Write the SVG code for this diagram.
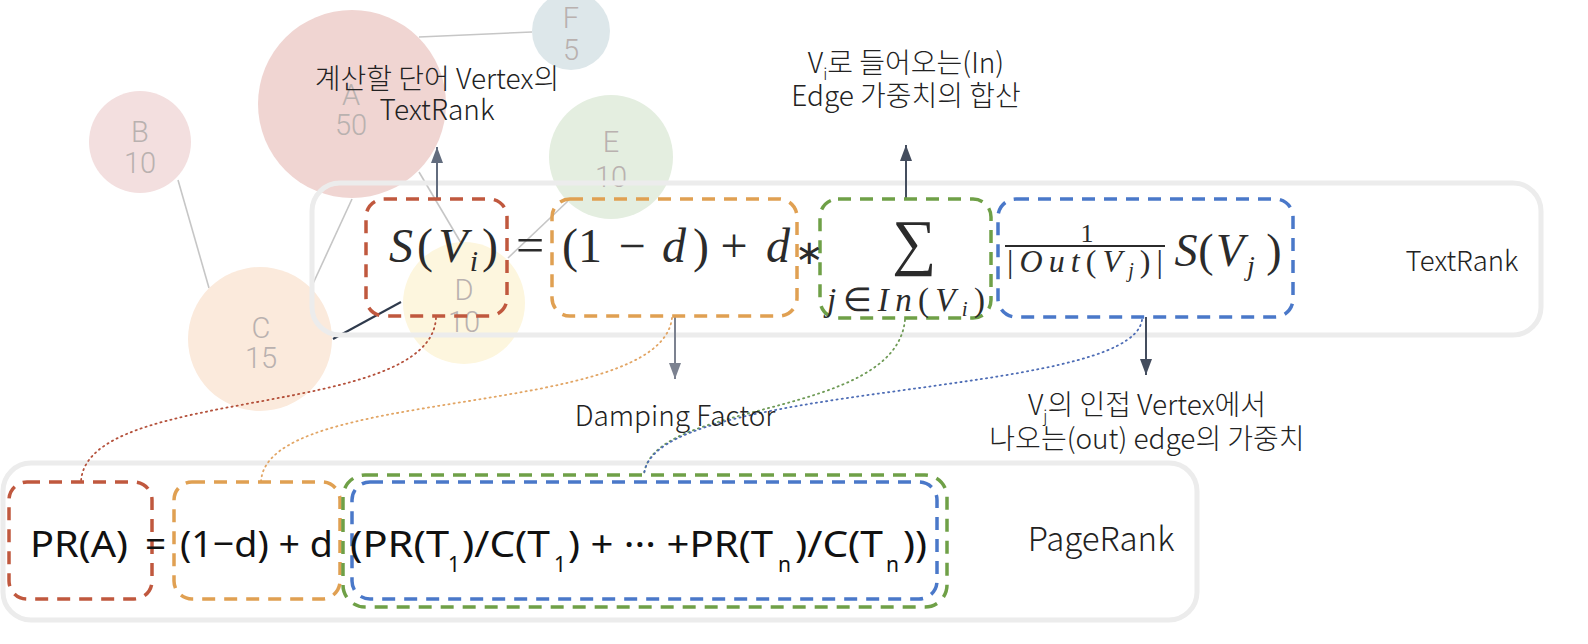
<svg xmlns="http://www.w3.org/2000/svg" width="1588" height="644" viewBox="0 0 1588 644">
<defs>
<style>
.edge{stroke:#c6c6c6;stroke-width:1.6;fill:none}
.nl{font-family:Roboto,"Noto Sans",sans-serif;font-weight:300;font-size:29px;text-anchor:middle;fill:#b9b1af}
.frame{fill:none;stroke:#ececec;stroke-width:5}
.db{fill:none;stroke-width:3.5;stroke-dasharray:13 9}
.red{stroke:#c0583e}.org{stroke:#e0a052}.grn{stroke:#6fa047}.blu{stroke:#4a78c9}
.dot{fill:none;stroke-width:1.8;stroke-dasharray:1.2 4;stroke-linecap:round}
.m{font-family:"Liberation Serif","Times New Roman",serif;fill:#2b2b2b;text-anchor:middle}
.it{font-style:italic}
.ko{font-family:"Noto Sans CJK KR","Noto Sans",sans-serif;font-weight:300;font-size:28px;fill:#222;text-anchor:middle}
.pr{font-family:"Noto Sans","Noto Sans CJK KR",sans-serif;font-size:37px;fill:#111}
.prs{font-family:"Noto Sans","Noto Sans CJK KR",sans-serif;font-size:21px;fill:#111}
.ttl{font-family:"Noto Sans CJK KR","Noto Sans",sans-serif;font-weight:300;fill:#222;text-anchor:middle}
</style>
<marker id="ahg" viewBox="0 0 16 12" refX="16" refY="6" markerWidth="16" markerHeight="12" markerUnits="userSpaceOnUse" orient="auto"><path d="M0,0 L16,6 L0,12 Z" fill="#626c7e"/></marker>
<marker id="ahd" viewBox="0 0 16 12" refX="16" refY="6" markerWidth="16" markerHeight="12" markerUnits="userSpaceOnUse" orient="auto"><path d="M0,0 L16,6 L0,12 Z" fill="#444d5e"/></marker>
<marker id="ahl" viewBox="0 0 16 12" refX="16" refY="6" markerWidth="16" markerHeight="12" markerUnits="userSpaceOnUse" orient="auto"><path d="M0,0 L16,6 L0,12 Z" fill="#7c8290"/></marker>
</defs>
<rect width="1588" height="644" fill="#ffffff"/>

<g id="graph-edges">
<line class="edge" x1="419" y1="37" x2="532" y2="32"/>
<line class="edge" x1="178" y1="180" x2="209" y2="288"/>
<line class="edge" x1="352" y1="199" x2="311" y2="288"/>
<line class="edge" x1="419" y1="172" x2="464" y2="248"/>
<line class="edge" x1="508" y1="258" x2="568" y2="201"/>
<line x1="333" y1="339" x2="401" y2="302" stroke="#2f3a4c" stroke-width="2"/>
</g>

<g id="node-F"><circle cx="571" cy="31" r="39" fill="#dde7ea"/><text class="nl" x="571" y="28">F</text><text class="nl" x="571" y="60">5</text></g>
<g id="node-A"><circle cx="352" cy="104" r="94" fill="#f0d5d2"/><text class="nl" x="351" y="105">A</text><text class="nl" x="351" y="135">50</text></g>
<g id="node-B"><circle cx="140" cy="142" r="51" fill="#f3dfdf"/><text class="nl" x="140" y="142">B</text><text class="nl" x="140" y="173">10</text></g>
<g id="node-E"><circle cx="611" cy="157" r="62" fill="#e4eee0"/><text class="nl" x="611" y="152">E</text><text class="nl" x="611" y="187">10</text></g>
<g id="node-C"><circle cx="260" cy="339" r="72" fill="#fbeadc"/><text class="nl" x="261" y="338">C</text><text class="nl" x="261" y="368">15</text></g>
<g id="node-D"><circle cx="464" cy="303" r="61" fill="#fdf6de"/><text class="nl" x="464" y="300">D</text><text class="nl" x="464" y="332">10</text></g>

<g id="textrank-frame"><rect class="frame" x="312" y="183" width="1229" height="152" rx="28"/></g>
<g id="pagerank-frame"><rect class="frame" x="3" y="463" width="1194" height="157" rx="28"/></g>

<g id="connectors">
<line x1="437" y1="199" x2="437" y2="147" stroke="#626c7e" stroke-width="2" marker-end="url(#ahg)"/>
<line x1="906" y1="199" x2="906" y2="145" stroke="#444d5e" stroke-width="2" marker-end="url(#ahd)"/>
<line x1="675" y1="317" x2="675" y2="379" stroke="#7c8290" stroke-width="2" marker-end="url(#ahl)"/>
<line x1="1146" y1="317" x2="1146" y2="375" stroke="#444d5e" stroke-width="2" marker-end="url(#ahd)"/>
<path class="dot" stroke="#b4503a" d="M436,318 C430,420 85,385 81,482"/>
<path class="dot" stroke="#e2a564" d="M672,318 C660,420 265,385 261,482"/>
<path class="dot" stroke="#6e9a55" d="M905,320 C895,420 650,400 644,475"/>
<path class="dot" stroke="#4d6cb5" d="M1142,320 C1130,400 650,380 644,475"/>
</g>

<g id="tr-box-red"><rect class="db red" x="366" y="199" width="141" height="117" rx="18"/></g>
<g id="tr-box-orange"><rect class="db org" x="552" y="199" width="245" height="117" rx="18"/></g>
<g id="tr-box-green"><rect class="db grn" x="820" y="199" width="171" height="119" rx="18"/></g>
<g id="tr-box-blue"><rect class="db blu" x="998" y="199" width="295" height="118" rx="18"/></g>

<g id="textrank-formula">
<text class="m it" x="401" y="262" font-size="48">S</text>
<text class="m" x="425" y="262" font-size="48">(</text>
<text class="m it" x="453" y="262" font-size="48">V</text>
<text class="m it" x="474" y="271" font-size="30">i</text>
<text class="m" x="490" y="262" font-size="48">)</text>
<text class="m" x="530" y="262" font-size="50">=</text>
<text class="m" x="570" y="262" font-size="48">(</text>
<text class="m" x="590" y="262" font-size="48">1</text>
<text class="m" x="632" y="262" font-size="48">−</text>
<text class="m it" x="674" y="262" font-size="48">d</text>
<text class="m" x="701" y="262" font-size="48">)</text>
<text class="m" x="734" y="262" font-size="48">+</text>
<text class="m it" x="778" y="262" font-size="48">d</text>
<text class="m" x="809" y="264" font-size="34">∗</text>
<text class="m" x="914" y="263" font-size="62">∑</text>
<text class="m" x="906" y="311" font-size="33" textLength="158" lengthAdjust="spacing"><tspan class="it">j</tspan>∈<tspan class="it">In</tspan>(<tspan class="it">V</tspan><tspan class="it" font-size="21" dy="5">i</tspan><tspan dy="-5">)</tspan></text>
<text class="m" x="1087" y="242" font-size="26">1</text>
<line x1="1005" y1="246" x2="1165" y2="246" stroke="#2b2b2b" stroke-width="1.8"/>
<text class="m" x="1085" y="272" font-size="32" textLength="156" lengthAdjust="spacing">|<tspan class="it">Out</tspan>(<tspan class="it">V</tspan><tspan class="it" font-size="20" dy="5">j</tspan><tspan dy="-5">)|</tspan></text>
<text class="m it" x="1186" y="266" font-size="46">S</text>
<text class="m" x="1206" y="266" font-size="46">(</text>
<text class="m it" x="1230" y="266" font-size="46">V</text>
<text class="m it" x="1251" y="275" font-size="28">j</text>
<text class="m" x="1274" y="266" font-size="46">)</text>
</g>

<g id="pr-box-red"><rect class="db red" x="9" y="482" width="143" height="117" rx="18"/></g>
<g id="pr-box-orange"><rect class="db org" x="174" y="482" width="166" height="117" rx="18"/></g>
<g id="pr-box-green"><rect class="db grn" x="343" y="475" width="604" height="132" rx="22"/></g>
<g id="pr-box-blue"><rect class="db blu" x="352" y="482" width="585" height="117" rx="18"/></g>

<g id="pagerank-formula">
<text class="pr" x="30" y="557" textLength="98" lengthAdjust="spacingAndGlyphs">PR(A)</text>
<text class="pr" x="145" y="557">=</text>
<text class="pr" x="180" y="557" textLength="153" lengthAdjust="spacingAndGlyphs">(1−d) + d</text>
<text class="pr" x="350" y="557" textLength="99" lengthAdjust="spacingAndGlyphs">(PR(T</text>
<text class="prs" x="448" y="572">1</text>
<text class="pr" x="462" y="557" textLength="88" lengthAdjust="spacingAndGlyphs">)/C(T</text>
<text class="prs" x="554" y="572">1</text>
<text class="pr" x="568" y="557" textLength="205" lengthAdjust="spacingAndGlyphs">) + ··· +PR(T</text>
<text class="prs" x="778" y="572">n</text>
<text class="pr" x="795" y="557" textLength="88" lengthAdjust="spacingAndGlyphs">)/C(T</text>
<text class="prs" x="886" y="572">n</text>
<text class="pr" x="903" y="557" textLength="24" lengthAdjust="spacingAndGlyphs">))</text>
</g>

<g id="label-vertex">
<text class="ko" x="437" y="89">계산할 단어 Vertex의</text>
<text class="ko" x="437" y="120">TextRank</text>
</g>
<g id="label-in">
<text class="ko" x="906" y="73">V<tspan font-size="16" dy="7">i</tspan><tspan dy="-7">로 들어오는(In)</tspan></text>
<text class="ko" x="906" y="106">Edge 가중치의 합산</text>
</g>
<g id="label-damping"><text class="ko" x="675" y="426" fill="#555">Damping Factor</text></g>
<g id="label-out">
<text class="ko" x="1147" y="415">V<tspan font-size="16" dy="7">j</tspan><tspan dy="-7">의 인접 Vertex에서</tspan></text>
<text class="ko" x="1147" y="449">나오는(out) edge의 가중치</text>
</g>
<g id="label-textrank"><text class="ttl" x="1462" y="271" font-size="27.5">TextRank</text></g>
<g id="label-pagerank"><text class="ttl" x="1101" y="551" font-size="33">PageRank</text></g>
</svg>
